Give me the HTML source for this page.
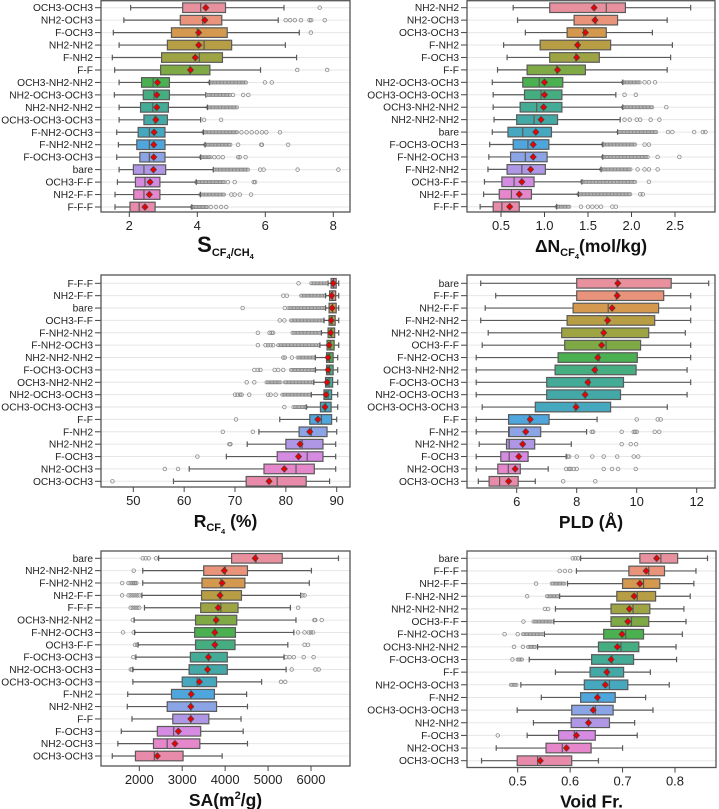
<!DOCTYPE html>
<html><head><meta charset="utf-8"><style>
html,body{margin:0;padding:0;background:#fff;}
svg{display:block;font-family:"Liberation Sans",Arial,sans-serif;}
</style></head><body>
<svg id="fig" width="719" height="809" viewBox="0 0 719 809"></svg>
<script>
const colors=["#e8909e","#e8937a","#d4994e","#b79d43","#9ea444","#7ea944","#4bb050","#45ad80","#44ab96","#44a9a6","#45a8be","#4fa6dd","#8aa4e6","#b097e5","#d58be2","#e687cc","#e88aaa"];

// ---------- Panel 1: selectivity ----------
const labels1=["OCH3-OCH3","NH2-OCH3","F-OCH3","NH2-NH2","F-NH2","F-F","OCH3-NH2-NH2","NH2-OCH3-OCH3","NH2-NH2-NH2","OCH3-OCH3-OCH3","F-NH2-OCH3","F-NH2-NH2","F-OCH3-OCH3","bare","OCH3-F-F","NH2-F-F","F-F-F"];
const lo1=[2.04,1.84,1.53,1.7,1.5,1.57,1.7,1.56,1.7,1.7,1.63,1.68,1.63,1.7,1.65,1.58,1.58];
const q1_1=[3.57,3.5,3.24,3.12,2.95,2.92,2.36,2.41,2.33,2.43,2.26,2.22,2.31,2.12,2.18,2.13,2.02];
const med1=[4.1,4.16,4.0,4.2,4.06,3.78,2.7,2.73,2.69,2.75,2.59,2.59,2.59,2.43,2.46,2.43,2.29];
const q3_1=[4.83,4.72,4.88,5.01,4.74,4.37,3.18,3.18,3.15,3.12,3.05,3.05,3.05,3.07,2.9,2.9,2.76];
const hi1=[6.55,6.38,7.0,6.59,6.92,5.86,4.36,4.25,4.3,4.1,4.18,4.23,4.1,4.47,3.97,4.09,3.84];
const mean1=[4.25,4.22,4.04,4.04,3.94,3.8,2.83,2.81,2.81,2.78,2.73,2.72,2.72,2.71,2.61,2.59,2.46];
const outs1=[[7.6],[6.6,6.73,6.87,7.05,7.3,7.35,7.75],[7.34],[],[],[6.94,7.82],[5.99,6.19],[5.05,5.35,5.5],[],[4.2,4.7],[5.3,5.45,5.6,5.75,5.9,6.03,6.43],[5.2,5.88,5.9,6.67],[4.5,4.62,4.75,5.2,5.25,5.42],[5.85,5.95,6.95,8.15],[4.9,5.1,5.66,5.7],[5.0,5.1,5.25,5.58],[4.4,4.55,4.7,4.85]];
const bands1=[[],[],[],[],[],[],[[4.36,5.45]],[[4.3,5.0]],[[4.3,5.2]],[],[[4.18,5.2]],[[4.23,5.0]],[[4.1,4.4]],[[4.5,5.5]],[[3.97,4.8]],[[4.09,4.8]],[[3.84,4.3]]];

// ---------- Panel 2: uptake ----------
const labels2=["NH2-NH2","NH2-OCH3","OCH3-OCH3","F-NH2","F-OCH3","F-F","NH2-OCH3-OCH3","OCH3-OCH3-OCH3","OCH3-NH2-NH2","NH2-NH2-NH2","bare","F-OCH3-OCH3","F-NH2-OCH3","F-NH2-NH2","OCH3-F-F","NH2-F-F","F-F-F"];
const lo2=[0.64,0.69,0.78,0.53,0.57,0.46,0.40,0.41,0.41,0.42,0.40,0.37,0.36,0.35,0.31,0.30,0.26];
const q1_2=[1.06,1.34,1.26,0.95,1.06,0.80,0.75,0.77,0.72,0.68,0.58,0.64,0.61,0.57,0.51,0.48,0.41];
const med2=[1.71,1.59,1.45,1.39,1.36,1.14,0.94,0.96,0.91,0.88,0.75,0.81,0.78,0.74,0.65,0.62,0.51];
const q3_2=[1.93,1.84,1.71,1.76,1.63,1.47,1.21,1.20,1.20,1.15,1.08,1.05,1.03,1.01,0.88,0.85,0.71];
const hi2=[2.68,2.41,2.24,2.47,2.45,2.41,1.90,1.82,1.90,1.87,1.84,1.67,1.67,1.65,1.43,1.39,1.14];
const mean2=[1.57,1.58,1.47,1.38,1.37,1.15,1.00,1.00,0.99,0.96,0.90,0.87,0.87,0.84,0.74,0.71,0.60];
const outs2=[[],[],[],[],[],[],[2.15,2.2,2.27],[1.92,2.05],[2.4],[1.92,1.98,2.06,2.1,2.22,2.32],[2.42,2.47,2.72,2.82,2.85],[2.15,2.2],[2.3,2.55],[2.07,2.15,2.2,2.3],[2.2],[2.1,2.13],[1.42,1.5,1.55,1.6,1.65,1.78,1.82]];
const bands2=[[],[],[],[],[],[],[[1.9,2.1]],[],[[1.9,2.25]],[],[[1.85,2.3]],[[1.67,2.05]],[[1.67,2.2]],[[1.65,2.0]],[[1.43,2.05]],[[1.39,2.0]],[[1.14,1.3]]];

// ---------- Panel 3: R CF4 ----------
const labels3=["F-F-F","NH2-F-F","bare","OCH3-F-F","F-NH2-NH2","F-NH2-OCH3","NH2-NH2-NH2","F-OCH3-OCH3","OCH3-NH2-NH2","NH2-OCH3-OCH3","OCH3-OCH3-OCH3","F-F","F-NH2","NH2-NH2","F-OCH3","NH2-OCH3","OCH3-OCH3"];
const lo3=[88.3,87.8,87.8,87.5,87.0,86.7,85.8,85.8,85.5,85.0,84.0,78.8,74.7,72.4,68.3,61.0,57.9];
const q1_3=[88.9,88.6,88.5,88.5,88.3,88.1,88.0,88.0,87.8,87.5,86.8,84.7,82.6,80.0,78.3,75.7,72.2];
const med3=[89.4,89.2,89.2,89.1,89.0,88.8,88.6,88.6,88.5,88.3,87.8,87.0,85.0,83.2,84.2,82.0,78.3];
const q3_3=[89.9,89.8,89.9,89.7,89.6,89.5,89.3,89.3,89.2,89.0,88.9,89.0,88.1,87.3,87.3,85.6,84.0];
const hi3=[90.4,90.4,90.4,90.4,90.4,90.4,90.2,90.2,90.2,90.2,90.2,90.0,90.0,89.8,89.8,89.8,88.6];
const mean3=[89.3,89.0,89.1,88.9,88.8,88.5,88.3,88.3,88.1,87.9,87.7,86.3,84.7,82.8,82.5,79.7,76.7];
const outs3=[[82.5],[79.5,80.2],[71.5,79.8],[78.8,79.7],[74.5,76.8,77.2,77.5],[74.5,76,76.5,77,77.5],[79.5,79.8,81.2],[73.8,74.5,75,77.8,78.5,79.5],[72.3,73.8],[70,70.5,71,71.3,72.8,76.5,77,78],[79.7],[70.2],[67.6,73.5],[68.9,69.1],[62.6],[56.2,58.8],[45.9]];
const bands3=[[[85,88.3]],[[83,87.8]],[[80.5,87.8]],[[81,87.5]],[[81.3,87.0]],[[78.5,86.7]],[[82.3,85.8]],[[81,85.8]],[[76.2,79],[79.8,85.5]],[[79.3,85.0]],[[81.5,84.0]],[],[],[],[],[],[]];

// ---------- Panel 4: PLD ----------
const labels4=["bare","F-F-F","NH2-F-F","F-NH2-NH2","NH2-NH2-NH2","OCH3-F-F","F-NH2-OCH3","OCH3-NH2-NH2","F-OCH3-OCH3","NH2-OCH3-OCH3","OCH3-OCH3-OCH3","F-F","F-NH2","NH2-NH2","F-OCH3","NH2-OCH3","OCH3-OCH3"];
const lo4=[4.8,5.3,4.95,4.8,5.05,4.85,4.65,4.65,4.65,4.65,4.85,4.65,4.65,4.75,4.65,4.65,4.72];
const q1_4=[8.0,8.0,7.88,7.68,7.5,7.6,7.38,7.28,7.0,7.0,6.62,5.73,5.73,5.66,5.47,5.37,5.08];
const med4=[9.35,9.32,9.05,9.0,8.88,8.98,8.75,8.65,8.42,8.28,7.95,6.42,5.75,5.75,5.75,5.72,5.43];
const q3_4=[11.15,10.9,10.73,10.6,10.4,10.13,10.02,9.98,9.56,9.46,9.13,7.08,6.8,6.6,6.38,6.12,6.05];
const hi4=[12.4,11.8,11.8,11.8,11.62,11.8,11.8,11.68,11.8,11.68,11.02,8.68,8.33,7.82,7.65,7.05,6.62];
const mean4=[9.37,9.35,9.18,9.03,8.9,8.83,8.7,8.6,8.37,8.28,7.98,6.45,6.3,6.2,6.07,5.95,5.73];
const outs4=[[],[],[],[],[],[],[],[],[],[],[],[10.0,10.7,10.8],[8.5,8.55,9.5,9.9,9.95,10.0,10.6,10.75],[9.5,9.8,9.98],[7.7,7.75,8.0,8.52,8.9,9.35,9.9,10.05],[7.65,7.75,7.8,7.9,8.0,8.9,9.18,9.38,9.97],[7.55,8.62]];
const bands4=[[],[],[],[],[],[],[],[],[],[],[],[],[],[],[],[],[]];

// ---------- Panel 5: SA ----------
const labels5=["bare","NH2-NH2-NH2","F-NH2-NH2","NH2-F-F","F-F-F","OCH3-NH2-NH2","F-NH2-OCH3","OCH3-F-F","F-OCH3-OCH3","NH2-OCH3-OCH3","OCH3-OCH3-OCH3","F-NH2","NH2-NH2","F-F","F-OCH3","NH2-OCH3","OCH3-OCH3"];
const lo5=[2450,2080,2080,2060,2120,1880,1890,1970,1920,1850,1850,1730,1720,1830,1580,1500,1370];
const q1_5=[4150,3500,3460,3450,3430,3310,3290,3310,3190,3160,3000,2750,2650,2780,2420,2330,1910];
const med5=[4720,4000,3900,3900,3900,3780,3760,3770,3620,3600,3350,3200,3200,3200,2800,2650,2350];
const q3_5=[5330,4520,4460,4380,4300,4270,4240,4230,4050,4050,3800,3750,3800,3620,3430,3410,3020];
const hi5=[6640,6010,5960,5760,5520,5650,5600,5460,5370,5420,4850,4500,4520,4370,4420,4520,3930];
const mean5=[4700,3980,3930,3880,3840,3790,3760,3760,3610,3590,3400,3210,3200,3200,2910,2830,2420];
const outs5=[[2080,2150,2220,2390],[1870],[1600,1750,1800,1850,1880,1900,1930],[1600,1750,1800,1850,1900,1950,2000,5800,5850],[1800,1850,1900,1950,2000,5700],[1850,6080,6100,6250],[1620,1870,5700,5850,5950,6000,6050],[1900,1950,5850,5930],[1860,5420,5500,5600,5830,6060],[1800,1830,5550,6100,6180],[5300,5400],[],[],[],[],[],[]];
const bands5=[[],[],[],[],[],[],[],[],[],[],[],[],[],[],[],[],[]];

// ---------- Panel 6: Void fraction ----------
const labels6=["bare","F-F-F","NH2-F-F","F-NH2-NH2","NH2-NH2-NH2","OCH3-F-F","F-NH2-OCH3","OCH3-NH2-NH2","F-OCH3-OCH3","F-F","NH2-OCH3-OCH3","F-NH2","OCH3-OCH3-OCH3","NH2-NH2","F-OCH3","NH2-OCH3","OCH3-OCH3"];
const lo6=[0.62,0.612,0.595,0.58,0.572,0.569,0.551,0.538,0.522,0.572,0.506,0.545,0.499,0.53,0.518,0.459,0.431];
const q1_6=[0.733,0.712,0.70,0.689,0.678,0.678,0.664,0.654,0.641,0.638,0.627,0.62,0.603,0.602,0.578,0.554,0.499];
const med6=[0.773,0.75,0.74,0.728,0.72,0.717,0.706,0.697,0.68,0.672,0.675,0.653,0.648,0.635,0.608,0.585,0.538];
const q3_6=[0.805,0.78,0.771,0.763,0.752,0.75,0.74,0.731,0.721,0.702,0.71,0.686,0.682,0.675,0.648,0.64,0.603];
const hi6=[0.862,0.84,0.836,0.829,0.817,0.821,0.814,0.802,0.803,0.753,0.789,0.744,0.758,0.723,0.728,0.70,0.654];
const mean6=[0.765,0.745,0.733,0.722,0.713,0.71,0.699,0.69,0.678,0.67,0.667,0.652,0.644,0.635,0.612,0.593,0.543];
const outs6=[[0.605,0.61,0.615],[0.58,0.59,0.60],[0.535],[0.518],[0.552,0.558],[0.511],[0.475,0.50],[0.493,0.51],[0.49],[],[],[],[],[],[0.462],[],[]];
const bands6=[[],[],[[0.565,0.59]],[[0.556,0.578]],[],[[0.53,0.565]],[[0.51,0.55]],[[0.52,0.535]],[[0.5,0.51]],[],[[0.487,0.5]],[],[],[],[],[],[]];

const ticks1=[2,4,6,8], tickLab1=["2","4","6","8"];
const ticks2=[0.5,1.0,1.5,2.0,2.5], tickLab2=["0.5","1.0","1.5","2.0","2.5"];
const ticks3=[50,60,70,80,90], tickLab3=["50","60","70","80","90"];
const ticks4=[6,8,10,12], tickLab4=["6","8","10","12"];
const ticks5=[2000,3000,4000,5000,6000], tickLab5=["2000","3000","4000","5000","6000"];
const ticks6=[0.5,0.6,0.7,0.8], tickLab6=["0.5","0.6","0.7","0.8"];

const NS="http://www.w3.org/2000/svg";
const svg=document.getElementById("fig");
function mk(tag,attrs,parent){const e=document.createElementNS(NS,tag);for(const k in attrs)e.setAttribute(k,attrs[k]);(parent||svg).appendChild(e);return e;}

function panel(id,g,labels,lo,q1,med,q3,hi,mean,outs,bands,ticks,tickLab,titleHTML){
  const grp=mk("g",{});
  
  
  const sx=v=>g.ra[1]+(v-g.ra[0])*(g.rb[1]-g.ra[1])/(g.rb[0]-g.ra[0]);
  const n=labels.length;
  const sy=i=>g.rt+i*(g.rbm-g.rt)/(n-1);
  const bh=9.6;
  for(let i=0;i<n;i++){
    const gl=mk("line",{x1:g.x0,x2:g.x1,y1:sy(i),y2:sy(i),stroke:"#e6e6e6","stroke-width":1},grp);
    
    
  }
  for(let i=0;i<n;i++){
    const y=sy(i);
    const row=mk("g",{},grp);
    
    
    (bands[i]||[]).forEach(b=>{
      const a=sx(b[0]),c=sx(b[1]);
      for(let x=a;x<=c;x+=1.4){mk("circle",{cx:x,cy:y,r:1.6,fill:"none",stroke:"#8a8a8a","stroke-width":0.7},row);}
    });
    (outs[i]||[]).forEach(v=>{
      const o=mk("circle",{cx:sx(v),cy:y,r:1.8,fill:"none",stroke:"#8a8a8a","stroke-width":0.8},row);
      
      
    });
    mk("line",{x1:sx(lo[i]),x2:sx(q1[i]),y1:y,y2:y,stroke:"#5a5a5a","stroke-width":1.2},row);
    mk("line",{x1:sx(q3[i]),x2:sx(hi[i]),y1:y,y2:y,stroke:"#5a5a5a","stroke-width":1.2},row);
    mk("line",{x1:sx(lo[i]),x2:sx(lo[i]),y1:y-2.8,y2:y+2.8,stroke:"#5a5a5a","stroke-width":1.2},row);
    mk("line",{x1:sx(hi[i]),x2:sx(hi[i]),y1:y-2.8,y2:y+2.8,stroke:"#5a5a5a","stroke-width":1.2},row);
    mk("rect",{x:sx(q1[i]),y:y-bh/2,width:Math.max(1,sx(q3[i])-sx(q1[i])),height:bh,fill:colors[i],stroke:"#5a5a5a","stroke-width":1.2},row);
    mk("line",{x1:sx(med[i]),x2:sx(med[i]),y1:y-bh/2,y2:y+bh/2,stroke:"#5a5a5a","stroke-width":1.2},row);
    const mx=sx(mean[i]);
    const d=mk("polygon",{points:`${mx},${y-3.3} ${mx+3.1},${y} ${mx},${y+3.3} ${mx-3.1},${y}`,fill:"#ee0000",stroke:"#444","stroke-width":0.7},row);
    
    
    mk("line",{x1:g.x0-6,x2:g.x0,y1:y,y2:y,stroke:"#444","stroke-width":1},grp);
    const t=mk("text",{x:g.x0-8,y:y+3.5,"text-anchor":"end","font-size":10.2,fill:"#222"},grp);
    t.textContent=labels[i];
    
    
  }
  const fr=mk("rect",{x:g.x0,y:g.y0,width:g.x1-g.x0,height:g.y1-g.y0,fill:"none",stroke:"#555","stroke-width":1.3},grp);
  
  
  ticks.forEach((v,k)=>{
    const x=sx(v);
    mk("line",{x1:x,x2:x,y1:g.y1,y2:g.y1+5,stroke:"#444","stroke-width":1},grp);
    const t=mk("text",{x:x,y:g.y1+18,"text-anchor":"middle","font-size":13,fill:"#222"},grp);
    t.textContent=tickLab[k];
    
    
  });
  const tt=mk("text",{x:(g.x0+g.x1)/2,y:g.y1+40,"text-anchor":"middle","font-size":17.5,"font-weight":"bold",fill:"#111"},grp);
  tt.innerHTML=titleHTML;
  
  
}

panel("panel-selectivity",{x0:101,x1:350,y0:0.7,y1:212,rt:7.7,rbm:207,ra:[2,129.3],rb:[8,333.3]},labels1,lo1,q1_1,med1,q3_1,hi1,mean1,outs1,bands1,ticks1,tickLab1,
 '<tspan font-size="22">S</tspan><tspan font-size="11" dy="4">CF</tspan><tspan font-size="7.5" dy="3">4</tspan><tspan font-size="11" dy="-3">/CH</tspan><tspan font-size="7.5" dy="3">4</tspan>');
panel("panel-uptake",{x0:467,x1:715,y0:0.7,y1:212,rt:7.7,rbm:206.7,ra:[0.5,501],rb:[2.5,675]},labels2,lo2,q1_2,med2,q3_2,hi2,mean2,outs2,bands2,ticks2,tickLab2,
 '\u0394N<tspan font-size="11" dy="4">CF</tspan><tspan font-size="7.5" dy="3">4</tspan><tspan dy="-7">(mol/kg)</tspan>');
panel("panel-recovery",{x0:101,x1:350,y0:275,y1:487,rt:283.3,rbm:481.3,ra:[50,133.3],rb:[90,336.7]},labels3,lo3,q1_3,med3,q3_3,hi3,mean3,outs3,bands3,ticks3,tickLab3,
 'R<tspan font-size="11" dy="4">CF</tspan><tspan font-size="7.5" dy="3">4</tspan><tspan dy="-7"> (%)</tspan>');
panel("panel-pld",{x0:467,x1:715,y0:275,y1:488,rt:283.3,rbm:481.3,ra:[6,516.7],rb:[12,696.7]},labels4,lo4,q1_4,med4,q3_4,hi4,mean4,outs4,bands4,ticks4,tickLab4,
 'PLD (\u00c5)');
panel("panel-surface-area",{x0:101,x1:350,y0:551,y1:766,rt:558.3,rbm:756,ra:[2000,139.3],rb:[6000,311]},labels5,lo5,q1_5,med5,q3_5,hi5,mean5,outs5,bands5,ticks5,tickLab5,
 'SA(m<tspan font-size="11" dy="-7">2</tspan><tspan dy="7">/g)</tspan>');
panel("panel-void-fraction",{x0:467,x1:716,y0:551,y1:767.5,rt:558.3,rbm:760.7,ra:[0.5,517.7],rb:[0.8,675]},labels6,lo6,q1_6,med6,q3_6,hi6,mean6,outs6,bands6,ticks6,tickLab6,
 'Void Fr.');
</script>
</body></html>
